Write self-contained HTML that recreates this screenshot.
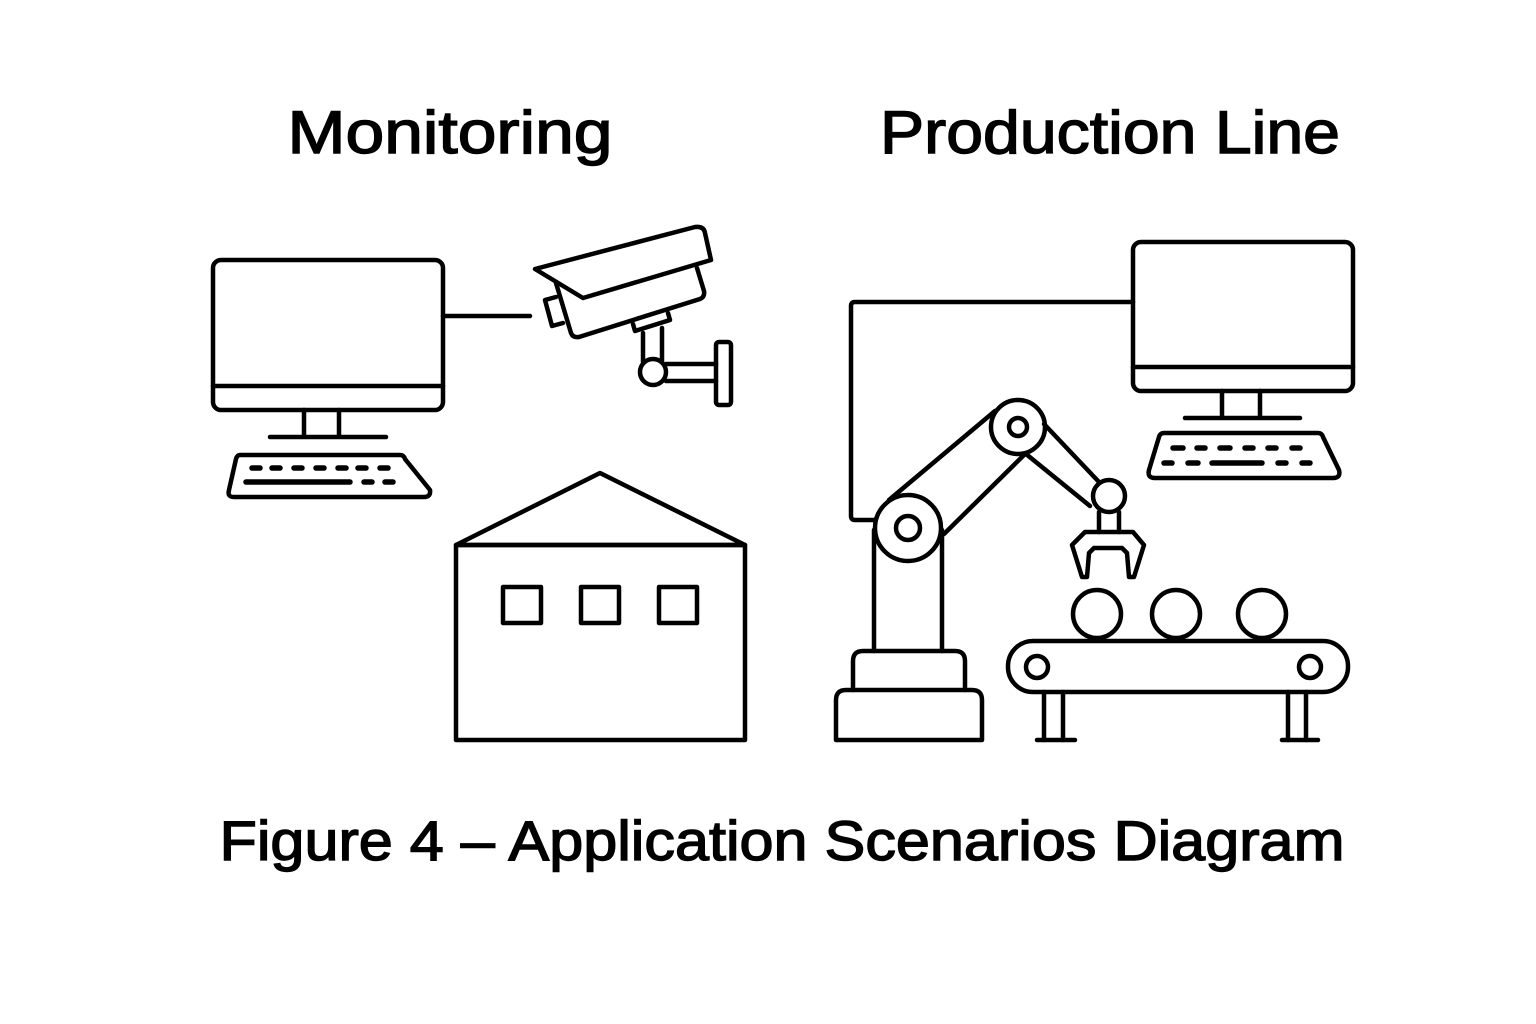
<!DOCTYPE html>
<html><head><meta charset="utf-8"><style>
html,body{margin:0;padding:0;background:#fff;}
svg{display:block;}
text{font-family:"Liberation Sans","DejaVu Sans",sans-serif;fill:#000;stroke:#000;stroke-width:1.4;}
</style></head><body>
<svg width="1536" height="1024" viewBox="0 0 1536 1024" xmlns="http://www.w3.org/2000/svg">
<rect width="1536" height="1024" fill="#fff"/>
<text x="450" y="153" font-size="60" text-anchor="middle" textLength="325" lengthAdjust="spacingAndGlyphs">Monitoring</text>
<text x="1110" y="153" font-size="60" text-anchor="middle" textLength="460" lengthAdjust="spacingAndGlyphs">Production Line</text>
<text x="782" y="860" font-size="56" text-anchor="middle" textLength="1125" lengthAdjust="spacingAndGlyphs">Figure 4 – Application Scenarios Diagram</text>

<g fill="none" stroke="#000" stroke-width="4.5" stroke-linejoin="round" stroke-linecap="round">
<!-- left monitor -->
<rect x="213" y="260" width="230" height="150" rx="8"/>
<line x1="213" y1="386" x2="443" y2="386"/>
<line x1="304" y1="410" x2="304" y2="436"/>
<line x1="339" y1="410" x2="339" y2="436"/>
<line x1="270" y1="437" x2="386" y2="437"/>
<path d="M240 455 L400 455 Q404 455 405 459 L430 490 Q431 497 424 497 L234 497 Q227 497 229 490 L236 459 Q237 455 240 455 Z"/>
<g stroke-width="5.5">
<path d="M252 468h8 M272 468h8 M294 468h8 M316 468h8 M338 468h8 M358 468h8 M380 468h8"/>
<path d="M246 482h104 M364 482h8 M385 482h8"/>
</g>
<line x1="443" y1="316" x2="530" y2="316"/>
<!-- camera -->
<path d="M535 269 L695 227 Q704 226 705 233 L711 260 L583 298 Z"/>
<path d="M556 283 L571 333 Q573 338 579 337 L700 299 Q705 297 704 291 L697 268"/>
<path d="M556 297 L545 300 L552 326 L563 323"/>
<path d="M633 324 L635 331 L670 320 L668 313"/>
<line x1="643" y1="333" x2="643" y2="362"/>
<line x1="662" y1="328" x2="662" y2="362"/>
<circle cx="653" cy="372" r="13"/>
<path d="M666 364 L716 364 M666 381 L716 381"/>
<rect x="716" y="342" width="15" height="63" rx="3"/>
<!-- building -->
<path d="M456 545 L600 473 L745 545 Z"/>
<rect x="456" y="545" width="289" height="195"/>
<rect x="503" y="587" width="38" height="36"/>
<rect x="581" y="587" width="38" height="36"/>
<rect x="659" y="587" width="38" height="36"/>

<!-- right connector -->
<path d="M1133 302 L855 302 Q851 302 851 306 L851 516 Q851 520 855 520 L875 520"/>
<!-- right monitor -->
<rect x="1133" y="242" width="220" height="149" rx="8"/>
<line x1="1133" y1="367" x2="1353" y2="367"/>
<line x1="1222" y1="391" x2="1222" y2="417"/>
<line x1="1260" y1="391" x2="1260" y2="417"/>
<line x1="1185" y1="418" x2="1300" y2="418"/>
<path d="M1164 433 L1318 433 Q1322 433 1323 437 L1339 470 Q1341 478 1333 478 L1155 478 Q1147 478 1149 470 L1159 437 Q1160 433 1164 433 Z"/>
<g stroke-width="5.5">
<path d="M1173 448h10 M1197 448h8 M1220 448h10 M1245 448h8 M1268 448h8 M1292 448h8"/>
<path d="M1164 463h8 M1188 463h10 M1212 463h50 M1278 463h8 M1302 463h8"/>
</g>
<!-- robot -->
<path d="M836 740 L836 700 Q836 690 846 690 L972 690 Q982 690 982 700 L982 740 Z"/>
<path d="M853 690 L853 661 Q853 651 863 651 L955 651 Q965 651 965 661 L965 690"/>
<line x1="874" y1="530" x2="874" y2="651"/>
<line x1="942" y1="530" x2="942" y2="651"/>
<circle cx="908" cy="528" r="33"/>
<circle cx="908" cy="528" r="12"/>
<line x1="889" y1="500" x2="995" y2="411"/>
<line x1="944" y1="534" x2="1024" y2="455"/>
<circle cx="1018" cy="427" r="27"/>
<circle cx="1018" cy="427" r="9"/>
<line x1="1044" y1="424" x2="1099" y2="482"/>
<line x1="1026" y1="454" x2="1090" y2="506"/>
<circle cx="1109" cy="496" r="16"/>
<line x1="1099" y1="512" x2="1099" y2="532"/>
<line x1="1119" y1="512" x2="1119" y2="532"/>
<path d="M1085 532 L1133 532 L1144 545 L1134 577 L1129 577 L1127 553 L1122 548 L1094 548 L1089 553 L1087 577 L1082 577 L1072 545 Z"/>
<circle cx="1097" cy="614" r="24"/>
<circle cx="1176" cy="614" r="24"/>
<circle cx="1262" cy="614" r="24"/>
<rect x="1008" y="641" width="340" height="51" rx="25"/>
<circle cx="1037" cy="667" r="11"/>
<circle cx="1310" cy="667" r="11"/>
<path d="M1044 692 V740 M1063 692 V740 M1288 692 V740 M1306 692 V740"/>
<path d="M1037 740 H1075 M1282 740 H1318"/>
</g>
</svg>
</body></html>
